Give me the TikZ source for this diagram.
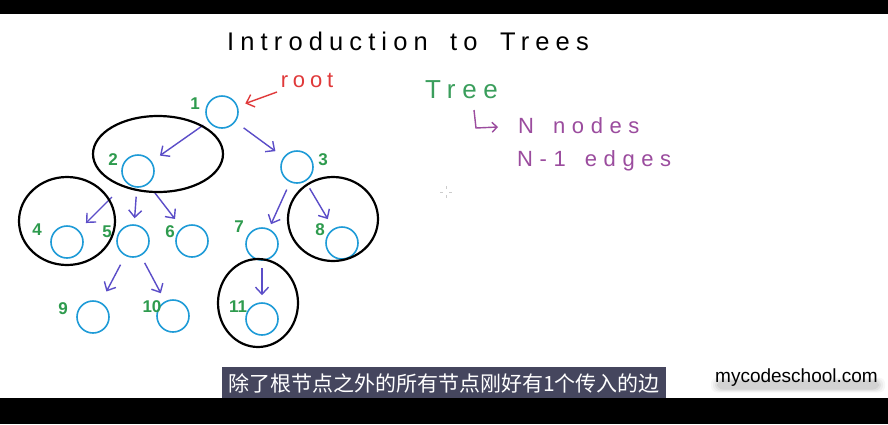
\documentclass[tikz,border=0pt]{standalone}
\usepackage{fontspec}
\setmainfont{Liberation Sans}
\newfontfamily\cjk{Noto Sans CJK SC}
\newfontfamily\handtitle[LetterSpace=24,WordSpace=1.7]{Liberation Sans}
\newfontfamily\handroot[LetterSpace=22]{Liberation Sans}
\newfontfamily\handtree[LetterSpace=26]{Liberation Sans}
\newfontfamily\handnote[LetterSpace=30,WordSpace=1.5]{Liberation Sans}
\usetikzlibrary{arrows.meta}
\definecolor{nodeblue}{HTML}{1E9BD7}
\definecolor{labgreen}{HTML}{2E9B4E}
\definecolor{arrpurple}{HTML}{5B4DC8}
\definecolor{rootred}{HTML}{E0393A}
\definecolor{treegreen}{HTML}{3A9E5C}
\definecolor{notepurple}{HTML}{9B4C9E}
\definecolor{capbg}{HTML}{45465E}
\begin{document}
\begin{tikzpicture}[x=1pt,y=-1pt,
  tnode/.style={circle,draw=nodeblue,line width=1.6pt,minimum size=32pt,inner sep=0pt},
  lab/.style={text=labgreen,font=\fontsize{17}{17}\selectfont\bfseries,inner sep=0pt},
  edge/.style={draw=arrpurple,line width=1.4pt,-{Straight Barb[length=7pt,width=13pt]}},
  group/.style={draw=black,line width=2.2pt},
  note/.style={text=notepurple,font=\handnote\fontsize{22}{22}\selectfont,inner sep=0pt,anchor=base west}]
\useasboundingbox (0,0) rectangle (888,424);
\fill[white] (0,0) rectangle (888,424);
\fill[black] (0,0) rectangle (888,14);
\fill[black] (0,398) rectangle (888,424);

% title
\node[font=\handtitle\fontsize{25.5}{25}\selectfont,inner sep=0pt,anchor=base] (title) at (408,50) {Introduction to Trees};

% tree nodes
\node[tnode] (n1) at (222,112) {};
\node[tnode] (n2) at (138,171) {};
\node[tnode] (n3) at (297,167) {};
\node[tnode] (n4) at (67,242) {};
\node[tnode] (n5) at (133,241) {};
\node[tnode] (n6) at (192,241) {};
\node[tnode] (n7) at (262,244) {};
\node[tnode] (n8) at (342,243) {};
\node[tnode] (n9) at (93,317) {};
\node[tnode] (n10) at (173,316) {};
\node[tnode] (n11) at (262,319) {};

% labels
\node[lab] (l1) at (195,104) {1};
\node[lab] (l2) at (113,160) {2};
\node[lab] (l3) at (323,160) {3};
\node[lab] (l4) at (37,230) {4};
\node[lab] (l5) at (107,232) {5};
\node[lab] (l6) at (170,232) {6};
\node[lab] (l7) at (239,227) {7};
\node[lab] (l8) at (320,230) {8};
\node[lab] (l9) at (63,309) {9};
\node[lab] (l10) at (152,307) {10};
\node[lab] (l11) at (238,307) {11};

% edges
\draw[edge,shorten <=6pt,shorten >=10pt] (n1) -- (n2);
\draw[edge,shorten <=10pt,shorten >=10pt] (n1) -- (n3);
\draw[edge,shorten <=20pt,shorten >=10pt] (n2) -- (n4);
\draw[edge,shorten <=9pt,shorten >=6pt] (n2) -- (n5);
\draw[edge,shorten <=11pt,shorten >=11pt] (n2) -- (n6);
\draw[edge,shorten <=8pt,shorten >=5pt] (n3) -- (n7);
\draw[edge,shorten <=8pt,shorten >=11pt] (n3) -- (n8);
\draw[edge,shorten <=10pt,shorten >=12pt] (n5) -- (n9);
\draw[edge,shorten <=8pt,shorten >=9pt] (n5) -- (n10);
\draw[edge,shorten <=7pt,shorten >=7pt] (n7) -- (n11);

% group ellipses
\draw[group] (158,154) ellipse [x radius=65, y radius=38];
\draw[group] (67,221) ellipse [x radius=48, y radius=44];
\draw[group] (333,219) ellipse [x radius=45, y radius=42];
\draw[group] (258,303) ellipse [x radius=40, y radius=44];

% root
\node[text=rootred,font=\handroot\fontsize{22}{22}\selectfont,inner sep=0pt,anchor=base] (rootlbl) at (307,87) {root};
\coordinate (rt) at (277,92);
\draw[draw=rootred,line width=1.4pt,-{Straight Barb[length=7pt,width=13pt]},shorten >=8pt] (rt) -- (n1);

% right notes
\node[text=treegreen,font=\handtree\fontsize{26}{26}\selectfont,inner sep=0pt,anchor=base west] (tree) at (425,98) {Tree};
\coordinate (hk1) at (474,110);
\coordinate (hk2) at (476,128);
\coordinate (hk3) at (498,127);
\draw[draw=notepurple,line width=1.4pt,-{Straight Barb[length=5pt,width=10pt]}] (hk1) -- (hk2) -- (hk3);
\node[note] (nn) at (518,133) {N nodes};
\node[note] (ne) at (517,166) {N-1 edges};

% cursor
\draw[gray!40,line width=0.8pt] (446,186) -- (446,189) (446,195) -- (446,198) (440,192) -- (443,192) (449,192) -- (452,192);

% caption
\node[fill=capbg,minimum width=444pt,minimum height=31pt,inner sep=0pt,anchor=north west] (capbox) at (222,367) {};
\node[text=white,font=\cjk\fontsize{21}{21}\selectfont,inner sep=0pt] (cap) at (444,383) {除了根节点之外的所有节点刚好有1个传入的边};

% logo with soft shadow
\foreach \i/\o in {7/0.03,5/0.04,3/0.05,1/0.06}{
  \fill[black,opacity=\o,rounded corners=6pt] (718-\i,381-\i/2) rectangle (878+\i,389+\i/2);
}
\node[text=black,font=\fontsize{19}{20}\selectfont,inner sep=0pt,anchor=base west] (logo) at (715,382) {mycodeschool.com};
\end{tikzpicture}
\end{document}
